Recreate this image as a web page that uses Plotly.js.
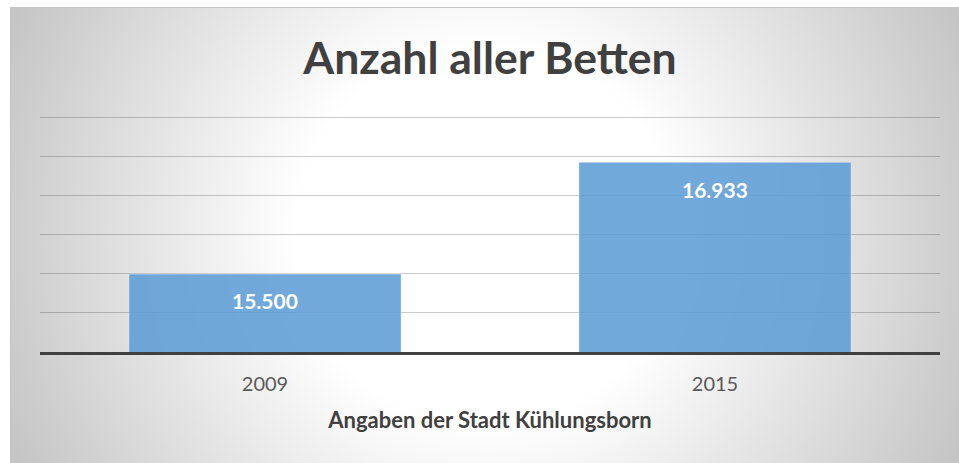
<!DOCTYPE html>
<html>
<head>
<meta charset="utf-8">
<script src="https://cdn.plot.ly/plotly-3.0.1.min.js"></script>
<style>
  html, body { margin: 0; padding: 0; background: #ffffff; width: 959px; height: 463px; overflow: hidden; }
  #bg {
    position: absolute; left: 10px; top: 7px; right: 0; bottom: 0;
    border-top: 1px solid #c4c4c4; border-left: 1px solid #c4c4c4;
    background: radial-gradient(circle farthest-corner at 50% 50%, #ffffff 36%, #c4c4c4 100%);
  }
  #chart { position: absolute; left: 0; top: 0; width: 959px; height: 463px; }
</style>
</head>
<body>
<div id="bg"></div>
<div id="chart"></div>
<script>
const categories = ["2009", "2015"];
const bedCounts = [15500, 16933];
const chartTitle = "Anzahl aller Betten";
const xAxisTitle = "Angaben der Stadt Kühlungsborn";
const yRange = [14500, 17525];
const yGridStep = 500;

function formatDE(v) {
  return String(Math.round(v)).replace(/\B(?=(\d{3})+(?!\d))/g, ".");
}

const trace = {
  type: "bar",
  x: categories,
  y: bedCounts,
  marker: {
    color: "rgba(91,155,213,0.86)",
    line: { color: "rgba(255,255,255,0.45)", width: 1 }
  },
  hoverinfo: "skip"
};

const annotations = categories.map((c, i) => ({
  x: i,
  y: bedCounts[i],
  xref: "x",
  yref: "y",
  text: "<b>" + formatDE(bedCounts[i]) + "</b>",
  showarrow: false,
  yanchor: "middle",
  yshift: -27,
  font: { family: "Lato, sans-serif", size: 21, color: "#ffffff" }
}));

const layout = {
  width: 959,
  height: 463,
  paper_bgcolor: "rgba(0,0,0,0)",
  plot_bgcolor: "rgba(0,0,0,0)",
  margin: { l: 40, r: 19, t: 116, b: 111 },
  showlegend: false,
  bargap: 0.395,
  title: {
    text: "<b>" + chartTitle + "</b>",
    font: { family: "Lato, sans-serif", size: 44.5, color: "#404040" },
    x: 0.5,
    xref: "paper",
    y: 1 - 58 / 463,
    yref: "container",
    yanchor: "middle"
  },
  xaxis: {
    type: "category",
    range: [-0.5, categories.length - 0.5],
    showgrid: false,
    showline: true,
    linecolor: "#404040",
    linewidth: 3,
    ticks: "",
    zeroline: false,
    ticklabelstandoff: 12,
    tickfont: { family: "Lato, sans-serif", size: 20, color: "#595959" },
    title: {
      text: "<b>" + xAxisTitle + "</b>",
      font: { family: "Lato, sans-serif", size: 22, color: "#404040" },
      standoff: 19
    }
  },
  yaxis: {
    range: yRange,
    dtick: yGridStep,
    tick0: yRange[0],
    showticklabels: false,
    ticks: "",
    showgrid: true,
    gridcolor: "rgba(0,0,0,0.2)",
    gridwidth: 1,
    zeroline: false,
    showline: false
  },
  annotations: annotations
};

Plotly.newPlot("chart", [trace], layout, { displayModeBar: false, staticPlot: true });
</script>
</body>
</html>
